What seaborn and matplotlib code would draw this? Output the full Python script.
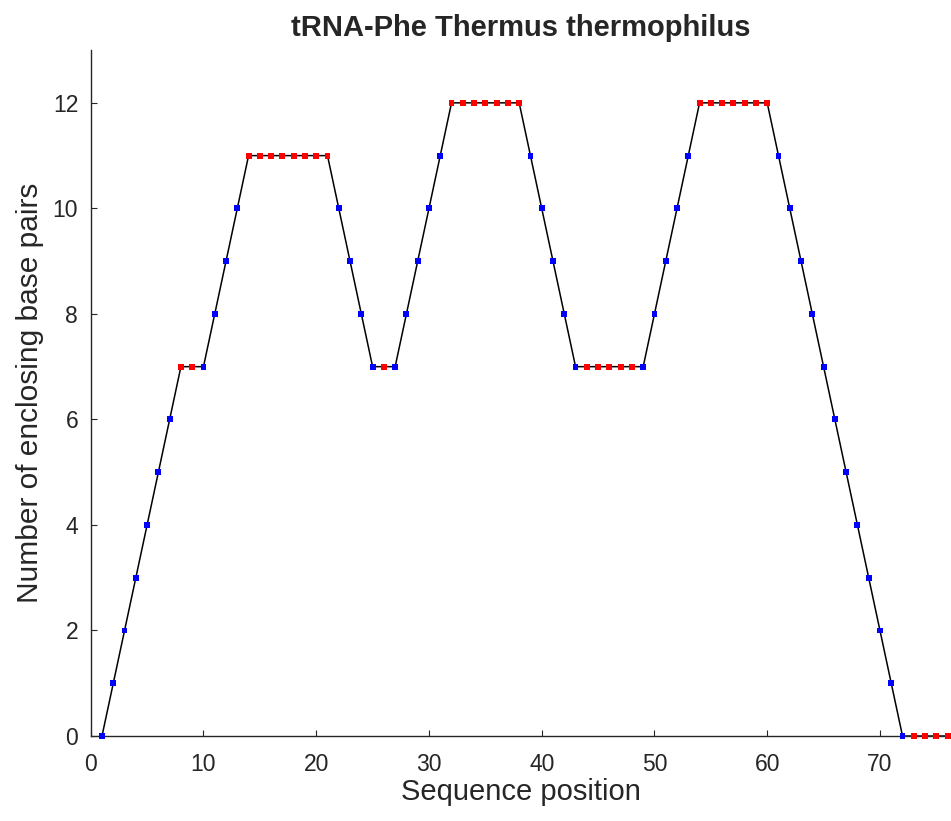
import matplotlib
matplotlib.use("Agg")
import matplotlib.pyplot as plt
import seaborn as sns
import pandas as pd

# mountain plot heights for positions 1..76
positions = list(range(1, 77))
heights = [0, 1, 2, 3, 4, 5, 6, 7, 7, 7,
           8, 9, 10, 11, 11, 11, 11, 11, 11, 11,
           11, 10, 9, 8, 7, 7, 7, 8, 9, 10,
           11, 12, 12, 12, 12, 12, 12, 12, 11, 10,
           9, 8, 7, 7, 7, 7, 7, 7, 7, 8,
           9, 10, 11, 12, 12, 12, 12, 12, 12, 12,
           11, 10, 9, 8, 7, 6, 5, 4, 3, 2,
           1, 0, 0, 0, 0, 0]
# 'p' = paired base, 'u' = unpaired base
state = list("ppppppp" "uu" "pppp" "uuuuuuuu" "pppp" "u" "ppppp" "uuuuuuu"
             "ppppp" "uuuuu" "ppppp" "uuuuuuu" "ppppp" "ppppppp" "uuuu")

df = pd.DataFrame({"pos": positions, "height": heights, "state": state})

sns.set_style("white")
plt.rcParams['font.family'] = ['Liberation Sans', 'DejaVu Sans']

fig = plt.figure(figsize=(9.51, 8.21), dpi=100)
ax = fig.add_axes([0.0954, 0.1035, 0.9046, 0.8355])

sns.lineplot(data=df, x="pos", y="height", color="black", lw=1.1, ax=ax)
sns.scatterplot(data=df, x="pos", y="height", hue="state",
                palette={"p": "#0000ff", "u": "#ff0000"}, marker="s",
                s=18, linewidth=0, legend=False, ax=ax, zorder=3,
                clip_on=False)

ax.set_xlim(0, 76.3)
ax.set_ylim(0, 13)
ax.set_xticks(range(0, 71, 10))
ax.set_yticks(range(0, 13, 2))

grey = "#262626"
for side in ["top", "right"]:
    ax.spines[side].set_visible(False)
for side in ["left", "bottom"]:
    ax.spines[side].set_color(grey)
    ax.spines[side].set_linewidth(1.0)
ax.tick_params(bottom=True, left=True, direction="in", length=4.5, width=0.8,
               colors=grey, labelsize=16.5)
ax.tick_params(axis="x", pad=12.5)
ax.tick_params(axis="y", pad=9)

ax.set_xlabel("Sequence position", fontsize=21, color=grey, labelpad=1)
ax.set_ylabel("Number of enclosing base pairs", fontsize=21.5, color=grey, labelpad=6)
ax.set_title("tRNA-Phe Thermus thermophilus", fontsize=21, fontweight="bold", pad=10)

fig.savefig("out.png", dpi=100)
